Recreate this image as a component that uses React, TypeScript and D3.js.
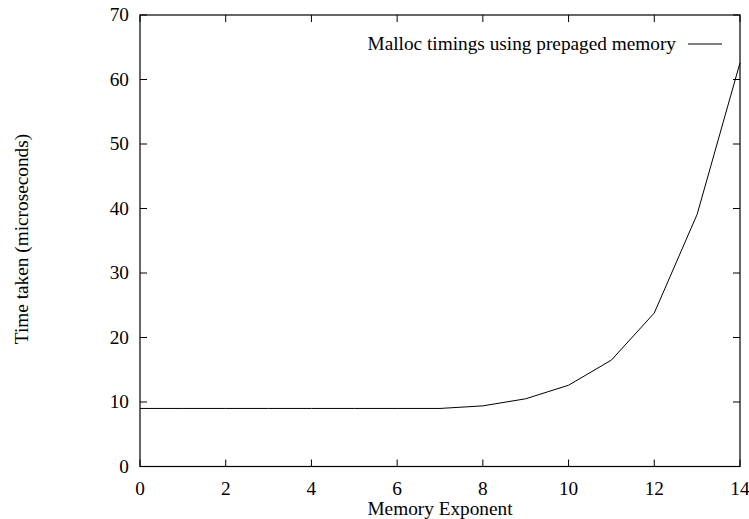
import React from "react";
import * as d3 from "d3";

const exponents = [0, 1, 2, 3, 4, 5, 6, 7, 8, 9, 10, 11, 12, 13, 14];
const timings = [9, 9, 9, 9, 9, 9, 9, 9, 9.4, 10.5, 12.6, 16.5, 23.8, 39.1, 62.6];
const xTicks = [0, 2, 4, 6, 8, 10, 12, 14];
const yTicks = [0, 10, 20, 30, 40, 50, 60, 70];
const seriesName = "Malloc timings using prepaged memory";
const xTitle = "Memory Exponent";
const yTitle = "Time taken (microseconds)";

export default function App() {
  const W = 749, H = 519;
  const left = 140, right = 740, top = 15, bottom = 466.5;
  const x = d3.scaleLinear().domain([0, 14]).range([left, right]);
  const y = d3.scaleLinear().domain([0, 70]).range([bottom, top]);
  const line = d3.line<number>().x((_, i) => x(exponents[i])).y((d) => y(d));
  const font = "'Liberation Serif', 'Times New Roman', serif";
  const fs = 19.3;
  const tl = 7;
  return (
    <svg width={W} height={H} style={{ position: "absolute", left: 0, top: 0 }} fontFamily={font}>
      <rect width={W} height={H} fill="#fff" />
      {xTicks.map((t) => (
        <g key={"x" + t}>
          <line x1={x(t)} x2={x(t)} y1={bottom} y2={bottom - tl} stroke="#000" />
          <line x1={x(t)} x2={x(t)} y1={top} y2={top + tl} stroke="#000" />
          <text x={x(t)} y={495} fontSize={fs} textAnchor="middle">{t}</text>
        </g>
      ))}
      {yTicks.map((t) => (
        <g key={"y" + t}>
          <line x1={left} x2={left + tl} y1={y(t)} y2={y(t)} stroke="#000" />
          <line x1={right} x2={right - tl} y1={y(t)} y2={y(t)} stroke="#000" />
          <text x={129} y={y(t)} dy="0.33em" fontSize={fs} textAnchor="end">{t}</text>
        </g>
      ))}
      <rect x={left} y={top} width={right - left} height={bottom - top} fill="none" stroke="#000" strokeWidth={1.2} />
      <path d={line(timings) || ""} fill="none" stroke="#000" strokeWidth={1} />
      <text x={676} y={50} fontSize={fs} textAnchor="end">{seriesName}</text>
      <line x1={688} x2={722} y1={44} y2={44} stroke="#000" />
      <text x={440} y={515} fontSize={fs} textAnchor="middle">{xTitle}</text>
      <text transform={`translate(28,239) rotate(-90)`} fontSize={fs} textAnchor="middle">{yTitle}</text>
    </svg>
  );
}
